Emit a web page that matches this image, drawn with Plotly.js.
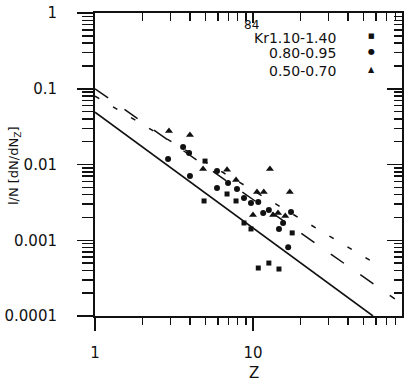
<!DOCTYPE html>
<html>
<head>
<meta charset="utf-8">
<script src="https://cdn.plot.ly/plotly-3.0.1.min.js"></script>
<style>
  html, body { margin: 0; padding: 0; background: #fff; }
  #chart { width: 410px; height: 382px; }
</style>
</head>
<body>
<div id="chart"></div>
<script>
// Z and 1/N dN/dNz, one pair per point
var hiZ = [4.97, 4.90, 6.85, 7.81, 8.77, 9.71, 17.7, 10.8, 12.6, 14.6];
var hiY = [0.0111, 0.0033, 0.00408, 0.0033, 0.00169, 0.00141, 0.00125, 0.00043, 0.0005, 0.000417];

var midZ = [2.90, 3.61, 3.94, 3.99, 5.92, 6.95, 7.92, 5.92, 8.77, 9.71, 10.8, 11.6, 12.6, 14.6, 15.5, 17.4, 16.7];
var midY = [0.0118, 0.0170, 0.0142, 0.00705, 0.0082, 0.0057, 0.00475, 0.0049, 0.00361, 0.0031, 0.0032, 0.00229, 0.00251, 0.00141, 0.00169, 0.00236, 0.00081];

var loZ = [2.94, 3.99, 4.83, 6.85, 7.81, 10.6, 11.7, 12.8, 17.1, 10.0, 13.4, 14.4, 16.0];
var loY = [0.0277, 0.0245, 0.0087, 0.0085, 0.00624, 0.00433, 0.00433, 0.0087, 0.00433, 0.00215, 0.00215, 0.00229, 0.00209];

// end points of the three fitted lines
var solidZ = [1, 57.5];
var solidY = [0.049, 0.0001];
var longZ = [1, 79];
var longY = [0.1, 0.000168];
var shortZ = [1, 63];
var shortY = [0.08, 0.00046];

var legendLabels = ['Kr1.10-1.40', '0.80-0.95', '0.50-0.70'];
var legendGlyphs = ['\u25A0', '\u25CF', '\u25B2'];

var yTicks = [0.0001, 0.001, 0.01, 0.1, 1];
var yTickText = ['0.0001', '0.001', '0.01', '0.1', '1'];
var xTicks = [1, 10];
var xTickText = ['1', '10'];

var xMinor = [], yMinor = [];
[1, 10].forEach(function (d) { for (var k = 2; k <= 9; k++) xMinor.push(k * d); });
[0.0001, 0.001, 0.01, 0.1].forEach(function (d) { for (var k = 2; k <= 9; k++) yMinor.push(k * d); });

var ink = '#111';
var font = 'DejaVu Sans, sans-serif';

var data = [
  {x: hiZ, y: hiY, mode: 'markers', type: 'scatter',
   marker: {symbol: 'square', size: 5, color: ink}},
  {x: midZ, y: midY, mode: 'markers', type: 'scatter',
   marker: {symbol: 'circle', size: 6, color: ink}},
  {x: loZ, y: loY, mode: 'markers', type: 'scatter',
   marker: {symbol: 'triangle-up', size: 7, color: ink}},
  {x: longZ, y: longY, mode: 'lines', type: 'scatter',
   line: {color: ink, width: 1.5, dash: '16px,20px'}},
  {x: shortZ, y: shortY, mode: 'lines', type: 'scatter',
   line: {color: ink, width: 1.5, dash: '5px,16px'}},
  {x: solidZ, y: solidY, mode: 'lines', type: 'scatter', xaxis: 'x2', yaxis: 'y2',
   line: {color: ink, width: 1.6}}
];

var xRange = [0, 1.943];
var yRange = [-4, 0];

function note(text, x, y, size, extra) {
  var a = {text: text, x: x, y: y, xref: 'paper', yref: 'paper',
    xanchor: 'center', yanchor: 'middle', showarrow: false,
    font: {family: font, size: size, color: ink}};
  for (var k in extra) a[k] = extra[k];
  return a;
}

var annotations = [
  note('84', 0.511, 0.962, 12, {height: 9}),
  note('l/N [dN/dN<sub>Z</sub>]', -0.264, 0.498, 13, {textangle: -90}),
  note('Z', 0.518, -0.188, 15)
];
var rowsY = [0.918, 0.868, 0.809];
legendLabels.forEach(function (t, i) {
  annotations.push(note(t, 0.7915, rowsY[i], 14, {xanchor: 'right', height: 14}));
  annotations.push(note(legendGlyphs[i], 0.902, rowsY[i] + 0.006, i === 0 ? 7 : 8));
});

var layout = {
  width: 410,
  height: 382,
  margin: {l: 95, r: 8, t: 13, b: 66},
  paper_bgcolor: '#fff',
  plot_bgcolor: '#fff',
  showlegend: false,
  xaxis: {
    type: 'log', range: xRange, showgrid: false, zeroline: false,
    showline: true, linecolor: ink, linewidth: 2,
    tickmode: 'array', tickvals: xTicks, ticktext: xTickText,
    ticks: 'outside', ticklen: 13, tickwidth: 1.5, tickcolor: ink,
    ticklabelstandoff: 9,
    tickfont: {family: font, size: 15, color: ink},
    minor: {tickmode: 'array', tickvals: xMinor, ticks: 'outside', ticklen: 7, tickwidth: 1.5, tickcolor: ink, showgrid: false}
  },
  yaxis: {
    type: 'log', range: yRange, showgrid: false, zeroline: false,
    showline: true, linecolor: ink, linewidth: 2,
    tickmode: 'array', tickvals: yTicks, ticktext: yTickText,
    ticks: 'outside', ticklen: 16, tickwidth: 1.5, tickcolor: ink,
    ticklabelstandoff: 17,
    tickfont: {family: font, size: 15, color: ink},
    minor: {tickmode: 'array', tickvals: yMinor, ticks: 'outside', ticklen: 11, tickwidth: 1.5, tickcolor: ink, showgrid: false}
  },
  xaxis2: {
    type: 'log', range: xRange, overlaying: 'x', side: 'top', anchor: 'y2',
    showgrid: false, zeroline: false, showticklabels: false,
    showline: true, linecolor: ink, linewidth: 2,
    tickmode: 'array', tickvals: xTicks,
    ticks: 'inside', ticklen: 10, tickwidth: 1.5, tickcolor: ink,
    minor: {tickmode: 'array', tickvals: xMinor, ticks: 'inside', ticklen: 8, tickwidth: 1.5, tickcolor: ink, showgrid: false}
  },
  yaxis2: {
    type: 'log', range: yRange, overlaying: 'y', side: 'right', anchor: 'x2',
    showgrid: false, zeroline: false, showticklabels: false,
    showline: true, linecolor: ink, linewidth: 2,
    tickmode: 'array', tickvals: yTicks,
    ticks: 'inside', ticklen: 15, tickwidth: 1.5, tickcolor: ink,
    minor: {tickmode: 'array', tickvals: yMinor, ticks: 'inside', ticklen: 8, tickwidth: 1.5, tickcolor: ink, showgrid: false}
  },
  annotations: annotations
};

Plotly.newPlot('chart', data, layout, {staticPlot: true, displayModeBar: false});
</script>
</body>
</html>
